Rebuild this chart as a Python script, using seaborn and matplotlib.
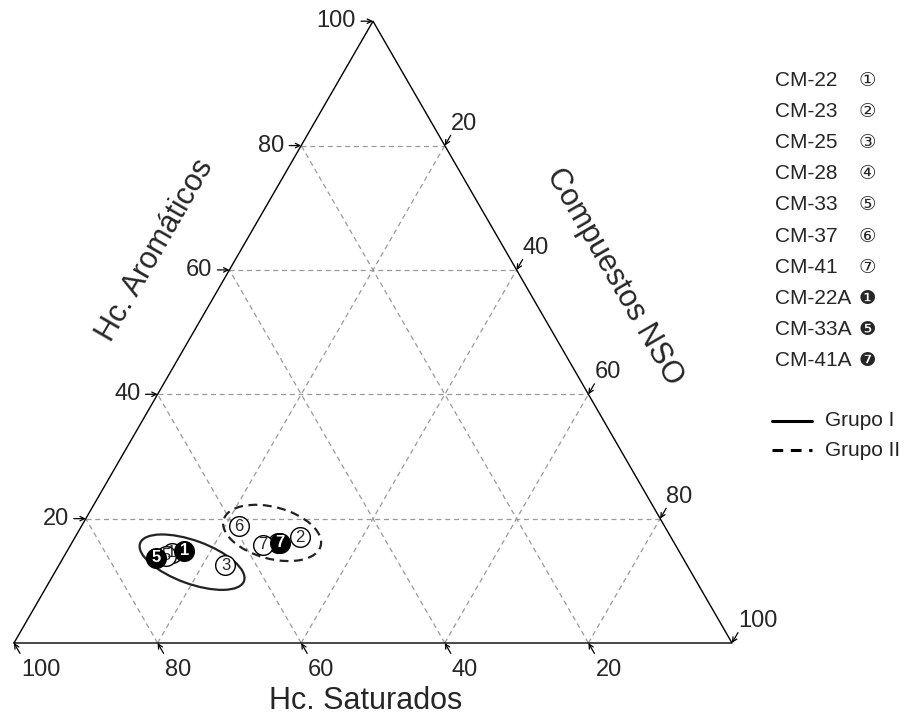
import numpy as np
import pandas as pd
import matplotlib
matplotlib.use('Agg')
import matplotlib.pyplot as plt
from matplotlib.patches import Ellipse
import seaborn as sns

sns.set_style('white')
plt.rcParams['font.family'] = ['Liberation Sans', 'DejaVu Sans']

muestras = ['CM-22', 'CM-23', 'CM-25', 'CM-28', 'CM-33', 'CM-37', 'CM-41', 'CM-22A', 'CM-33A', 'CM-41A']
numeros = ['1', '2', '3', '4', '5', '6', '7', '1', '5', '7']
simbolos = ['①', '②', '③', '④', '⑤', '⑥', '⑦', '❶', '❺', '❼']
rellenos = [False, False, False, False, False, False, False, True, True, True]
saturados = [70.8, 51.7, 64.3, 55.2, 71.8, 59.3, 57.4, 68.9, 73.4, 54.9]
aromaticos = [14.5, 17.0, 12.5, 16.1, 14.0, 18.8, 15.8, 14.8, 13.7, 16.1]
nso = [100 - s - a for s, a in zip(saturados, aromaticos)]

# Elipses de agrupamiento (centro en composición)
grupos = ['Grupo I', 'Grupo II']
grupo_sat = [68.7, 55.2]
grupo_aro = [13.0, 17.7]
grupo_ancho = [15.4, 14.0]
grupo_alto = [6.0, 7.2]
grupo_angulo = [-20, -15]
grupo_estilo = ['-', (0, (4, 2.5))]

ticks = [20, 40, 60, 80, 100]
R3 = np.sqrt(3) / 2
PX = 1 / 7.18  # unidades de datos por pixel


def tern(s, a, n):
    return n + a / 2, a * R3


fig = plt.figure(figsize=(9.24, 7.17), dpi=100)
ax = fig.add_axes([0, 0, 1, 1])
ax.set_xlim(-14 * PX, 910 * PX)
ax.set_ylim(-74 * PX, 643 * PX)
ax.axis('off')

# triángulo
tri = [tern(100, 0, 0), tern(0, 0, 100), tern(0, 100, 0), tern(100, 0, 0)]
ax.plot([p[0] for p in tri], [p[1] for p in tri], color='black', lw=1.0, zorder=3)

# rejilla
grid_kw = dict(color='#9a9a9a', lw=0.9, ls=(0, (4, 3)), zorder=1)
for v in [20, 40, 60, 80]:
    p1, p2 = tern(100 - v, v, 0), tern(0, v, 100 - v)
    ax.plot([p1[0], p2[0]], [p1[1], p2[1]], **grid_kw)
    p1, p2 = tern(v, 0, 100 - v), tern(v, 100 - v, 0)
    ax.plot([p1[0], p2[0]], [p1[1], p2[1]], **grid_kw)
    p1, p2 = tern(100 - v, 0, v), tern(0, 100 - v, v)
    ax.plot([p1[0], p2[0]], [p1[1], p2[1]], **grid_kw)

arrow_kw = dict(arrowstyle='->', lw=0.9, color='black', shrinkA=0, shrinkB=0, mutation_scale=8)
L = 12 * PX
for v in ticks:
    # Hc. Saturados (abajo)
    x, y = tern(v, 0, 100 - v)
    ax.annotate('', xy=(x, y), xytext=(x + 0.5 * L, y - R3 * L), arrowprops=arrow_kw)
    ax.text(x + 7 * PX, y - 27 * PX, str(v), ha='left', va='center', fontsize=17)
    # Hc. Aromáticos (izquierda)
    x, y = tern(100 - v, v, 0)
    ax.annotate('', xy=(x, y), xytext=(x - L, y), arrowprops=arrow_kw)
    ax.text(x - 17 * PX, y, str(v), ha='right', va='center', fontsize=17)
    # Compuestos NSO (derecha)
    x, y = tern(0, 100 - v, v)
    ax.annotate('', xy=(x, y), xytext=(x + 0.5 * L, y + R3 * L), arrowprops=arrow_kw)
    ax.text(x + 6 * PX, y + 22 * PX, str(v), ha='left', va='center', fontsize=17)

ax.text((366 - 14) * PX, -58 * PX, 'Hc. Saturados', ha='center', va='center', fontsize=22)
ax.text((155 - 14) * PX, (643 - 250) * PX, 'Hc. Aromáticos', ha='center', va='center',
        fontsize=22, rotation=60, rotation_mode='anchor')
ax.text((614 - 14) * PX, (643 - 277) * PX, 'Compuestos NSO', ha='center', va='center',
        fontsize=22, rotation=-60, rotation_mode='anchor')

# muestras
xy = [tern(s, a, n) for s, a, n in zip(saturados, aromaticos, nso)]
df = pd.DataFrame({'muestra': muestras, 'num': numeros, 'relleno': rellenos,
                   'x': [p[0] for p in xy], 'y': [p[1] for p in xy]})
abiertos = df[~df['relleno']]
llenos = df[df['relleno']]
sns.scatterplot(data=abiertos, x='x', y='y', s=200, color='white', edgecolor='black',
                linewidth=1.0, ax=ax, zorder=4, legend=False)
for _, r in abiertos.iterrows():
    ax.text(r['x'], r['y'], r['num'], ha='center', va='center', fontsize=12, zorder=5)
sns.scatterplot(data=llenos, x='x', y='y', s=200, color='black', edgecolor='black',
                linewidth=1.0, ax=ax, zorder=6, legend=False)
for _, r in llenos.iterrows():
    ax.text(r['x'], r['y'], r['num'], ha='center', va='center', fontsize=12,
            color='white', fontweight='bold', zorder=7)

# elipses
for i in range(len(grupos)):
    cx, cy = tern(grupo_sat[i], grupo_aro[i], 100 - grupo_sat[i] - grupo_aro[i])
    e = Ellipse((cx, cy), grupo_ancho[i], grupo_alto[i], angle=grupo_angulo[i], fill=False,
                edgecolor='#222222', lw=1.6, ls=grupo_estilo[i], zorder=3)
    ax.add_patch(e)

# leyenda
W, H = 924, 717
for i, (m, sym) in enumerate(zip(muestras, simbolos)):
    yy = 80 + 31.2 * i
    fig.text(775 / W, 1 - yy / H, m, ha='left', va='center', fontsize=15)
    fig.text(867 / W, 1 - yy / H, sym, ha='center', va='center', fontsize=14,
             family=['DejaVu Sans'])
for i, g in enumerate(grupos):
    yy = 421 + 29 * i
    fig.add_artist(plt.Line2D([772 / W, 812 / W], [1 - yy / H, 1 - yy / H], color='black',
                              lw=2.2, ls=grupo_estilo[i] if i == 0 else (0, (3.5, 2.5))))
    fig.text(825 / W, 1 - yy / H, g, ha='left', va='center', fontsize=15, color='#222222')

fig.savefig('out.png', dpi=100)
